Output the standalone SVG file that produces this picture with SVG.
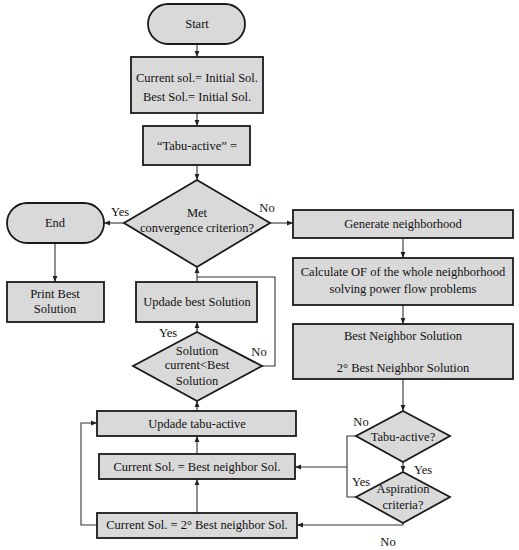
<svg xmlns="http://www.w3.org/2000/svg" width="519" height="550" viewBox="0 0 519 550">
<defs>
<style>
.s{fill:#d9d9d9;stroke:#1a1a1a;stroke-width:1.8}
.t{font-family:"Liberation Serif","Times New Roman",serif;font-size:12.5px;fill:#111;text-anchor:middle;dominant-baseline:central}
.c{fill:none;stroke:#333;stroke-width:1.1}
</style>
<marker id="a" viewBox="0 0 10 10" refX="10" refY="5" markerWidth="6" markerHeight="6" orient="auto-start-reverse" markerUnits="userSpaceOnUse"><path d="M0,1 L10,5 L0,9 z" fill="#222"/></marker>
</defs>
<rect width="519" height="550" fill="#fff"/>
<g id="connectors">
<path class="c" d="M197,44 V57" marker-end="url(#a)"/>
<path class="c" d="M197,113 V126" marker-end="url(#a)"/>
<path class="c" d="M197,165 V180" marker-end="url(#a)"/>
<path class="c" d="M124,223 H104" marker-end="url(#a)"/>
<path class="c" d="M270,223 H293" marker-end="url(#a)"/>
<path class="c" d="M55,243 V282" marker-end="url(#a)"/>
<path class="c" d="M403,238 V258" marker-end="url(#a)"/>
<path class="c" d="M403,305 V324" marker-end="url(#a)"/>
<path class="c" d="M403,379 V411" marker-end="url(#a)"/>
<path class="c" d="M197,282 V267" marker-end="url(#a)"/>
<path class="c" d="M262,366 H275 V277 H197"/>
<path class="c" d="M197,332 V322" marker-end="url(#a)"/>
<path class="c" d="M197,411 V401" marker-end="url(#a)"/>
<path class="c" d="M197,454 V436" marker-end="url(#a)"/>
<path class="c" d="M197,513 V479" marker-end="url(#a)"/>
<path class="c" d="M97,525 H81 V423 H97" marker-end="url(#a)"/>
<path class="c" d="M356,436 H347 V497 H356"/>
<path class="c" d="M347,467 H295" marker-end="url(#a)"/>
<path class="c" d="M403,462 V472" marker-end="url(#a)"/>
<path class="c" d="M403,523 V525 H297" marker-end="url(#a)"/>
</g>
<g id="start"><rect class="s" x="148" y="4" width="97" height="40" rx="20"/><text class="t" x="197" y="24">Start</text></g>
<g id="init"><rect class="s" x="131" y="57" width="132" height="56"/><text class="t" x="197" y="78">Current sol.= Initial Sol.</text><text class="t" x="197" y="97">Best Sol.= Initial Sol.</text></g>
<g id="tabu0"><rect class="s" x="143" y="126" width="107" height="39"/><text class="t" x="197" y="146">“Tabu-active” =</text></g>
<g id="conv"><path class="s" d="M197,180 L270,223 L197,267 L124,223 Z"/><text class="t" x="197" y="213">Met</text><text class="t" x="197" y="228">convergence criterion?</text></g>
<g id="end"><rect class="s" x="7" y="203" width="97" height="40" rx="20"/><text class="t" x="55" y="223">End</text></g>
<g id="print"><rect class="s" x="7" y="282" width="97" height="40"/><text class="t" x="55" y="294">Print Best</text><text class="t" x="55" y="309">Solution</text></g>
<g id="gen"><rect class="s" x="293" y="210" width="220" height="28"/><text class="t" x="403" y="224">Generate neighborhood</text></g>
<g id="calc"><rect class="s" x="293" y="258" width="220" height="47"/><text class="t" x="403" y="272">Calculate OF of the whole neighborhood</text><text class="t" x="403" y="289">solving power flow problems</text></g>
<g id="bestn"><rect class="s" x="293" y="324" width="220" height="55"/><text class="t" x="403" y="336">Best Neighbor Solution</text><text class="t" x="403" y="368">2° Best Neighbor Solution</text></g>
<g id="updbest"><rect class="s" x="136" y="282" width="121" height="40"/><text class="t" x="197" y="302">Updade best Solution</text></g>
<g id="solcmp"><path class="s" d="M197,332 L262,366 L197,401 L133,366 Z"/><text class="t" x="197" y="351">Solution</text><text class="t" x="197" y="365">current&lt;Best</text><text class="t" x="197" y="381">Solution</text></g>
<g id="updtabu"><rect class="s" x="97" y="411" width="199" height="25"/><text class="t" x="197" y="424">Updade tabu-active</text></g>
<g id="curbest"><rect class="s" x="99" y="454" width="196" height="25"/><text class="t" x="197" y="467">Current Sol. = Best neighbor Sol.</text></g>
<g id="cur2"><rect class="s" x="97" y="513" width="200" height="25"/><text class="t" x="197" y="525">Current Sol. = 2° Best neighbor Sol.</text></g>
<g id="tabuq"><path class="s" d="M403,411 L450,436 L403,462 L356,436 Z"/><text class="t" x="403" y="437">Tabu-active?</text></g>
<g id="asp"><path class="s" d="M403,472 L450,497 L403,523 L356,497 Z"/><text class="t" x="403" y="489">Aspiration</text><text class="t" x="403" y="505">criteria?</text></g>
<g id="labels">
<text class="t" x="120" y="212">Yes</text>
<text class="t" x="267" y="208">No</text>
<text class="t" x="168" y="333">Yes</text>
<text class="t" x="259" y="352">No</text>
<text class="t" x="361" y="422">No</text>
<text class="t" x="423" y="470">Yes</text>
<text class="t" x="361" y="482">Yes</text>
<text class="t" x="388" y="542">No</text>
</g>
</svg>
